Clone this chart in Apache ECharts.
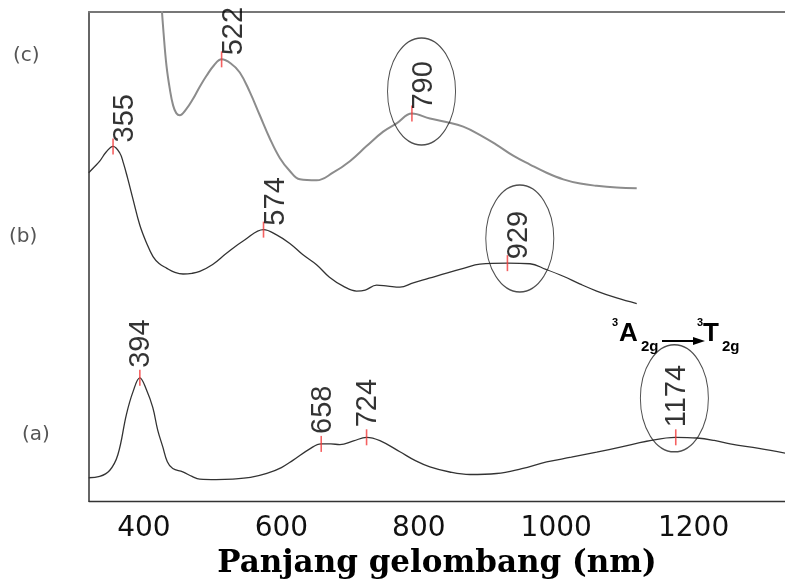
<!DOCTYPE html>
<html><head><meta charset="utf-8">
<script src="https://cdn.jsdelivr.net/npm/echarts@6/dist/echarts.min.js"></script>
<style>html,body{margin:0;padding:0;background:#fff}#c{width:785px;height:584px}</style>
</head><body><div id="c"></div>
<script>
// x tick labels (nm)
const xTicks = [400, 600, 800, 1000, 1200];

// spectra: [wavelength nm, relative absorbance (a.u., offset for stacking)]
const curveA = [[319.6,23.7],[335.6,25],[350,31],[362,47],[374.5,88],[384.1,111],[394,125],[403.6,113],[412.8,95],[420,72],[427.4,55],[434,40],[441.9,33],[456.5,29.7],[470,25],[481.2,22.3],[505,21.8],[529.3,22.3],[555,24],[578.8,28],[600,34],[616.7,41.3],[641.4,53],[658,58],[672,58],[685.1,57.3],[705,61],[724,64.7],[743.4,61.3],[772.5,50],[795,41],[816.2,34.7],[845,29.5],[874.4,27],[913.3,28],[950,33],[986.1,39.7],[1022,44.5],[1058.9,49.7],[1095,55],[1131.7,60.7],[1174,64.7],[1204.6,64],[1230,61.5],[1253.1,58],[1295,53.5],[1333.2,48.7]];
const curveB = [[319.6,333],[328,339],[335.6,344.7],[345,354],[355,359.7],[364.8,353],[370,343],[376,328],[384.1,306],[393.9,280],[403.6,262],[413.2,248],[422,241],[432.8,236.3],[445,232],[456.9,230.3],[470,231],[481.2,233],[500,240],[520.1,251.3],[547,265],[574,275.3],[593,270],[612.3,261.3],[631,250],[651.2,239.7],[670,227],[689.9,218],[709.4,213],[722,214],[738.6,219],[755,218],[772.5,217],[791.9,221.3],[815,226],[840.5,231.3],[865,236],[889,240.3],[929,241.3],[961.8,240.7],[985,235],[1010.3,228],[1035,220],[1058.9,213],[1088,206],[1117.2,200.3]];
const curveC = [[424.6,512],[428.5,475],[432.8,441.3],[437.6,418],[442.4,401.3],[447,393.5],[452.1,391.3],[461,397],[471.5,408],[481,420],[491,431.3],[502,442],[513,448],[526,444],[539.5,434.7],[554,415],[568.6,391.3],[583,368],[597.7,348],[612,335],[626.9,326.3],[651.2,325.3],[675,333],[699.7,344.7],[724,360],[748.2,374.7],[767.7,383],[790,393],[816.2,388],[840,384.5],[864.7,379.7],[890,371],[913.3,361.3],[938,350],[961.8,341.3],[986,333],[1010.3,326.3],[1035,322],[1058.9,319.7],[1088,318],[1117.2,317.3]];

// peak marker positions (nm) and their printed labels
const peaksA = [394, 658, 724, 1174];
const labelsA = ['394', '658', '724', '1174'];
const peaksB = [355, 574, 929];
const labelsB = ['355', '574', '929'];
const peaksC = [513, 790];
const labelsC = ['522', '790'];

// circled (highlighted) bands: centre [nm, a.u.]
const circled = [[804, 415.5], [947, 266.3], [1172, 104.2]];

const sampleNames = ['(a)', '(b)', '(c)'];

function yAt(curve, x) {
  for (let i = 0; i < curve.length - 1; i++) {
    const [x0, y0] = curve[i], [x1, y1] = curve[i + 1];
    if (x >= x0 && x <= x1) return y0 + (y1 - y0) * (x - x0) / (x1 - x0);
  }
  return curve[curve.length - 1][1];
}
function markers(curve, peaks, labels) {
  return peaks.map((x, i) => ({ value: [x, yAt(curve, x)], name: labels[i] }));
}

const chart = echarts.init(document.getElementById('c'));
const lblBase = { show: true, formatter: '{b}', rotate: 90, align: 'left', verticalAlign: 'middle',
  position: 'top', distance: 0, fontFamily: 'Liberation Sans', fontSize: 29, color: '#000' };
const sideLabel = Object.assign({}, lblBase, { offset: [-4, 12] });
const centerLabel = Object.assign({}, lblBase, { offset: [2, 1.5] });
const markerStyle = { color: '#f23a3a' };
const lineCommon = { type: 'line', smooth: 0.4, showSymbol: false, silent: true };

chart.setOption({
  animation: false,
  grid: { left: 89, right: 0, top: 12, bottom: 76 },
  xAxis: [{
    type: 'value', min: 320, max: 1333,
    axisLine: { show: true, lineStyle: { color: '#333', width: 1.3 } },
    axisTick: { show: false }, splitLine: { show: false },
    axisLabel: { customValues: xTicks, formatter: v => String(v), fontFamily: 'DejaVu Sans', fontSize: 28, color: '#111', margin: 14 },
    name: 'Panjang gelombang (nm)', nameLocation: 'middle', nameGap: 33,
    nameTextStyle: { fontFamily: 'DejaVu Serif', fontWeight: 'bold', fontSize: 31, color: '#000' }
  }, {
    type: 'value', position: 'top', min: 320, max: 1333,
    axisLine: { show: true, onZero: false, lineStyle: { color: '#777', width: 2 } },
    axisTick: { show: false }, axisLabel: { show: false }, splitLine: { show: false }
  }],
  yAxis: {
    type: 'value', min: 0, max: 496,
    axisLine: { show: true, lineStyle: { color: '#666', width: 2 } },
    axisTick: { show: false }, axisLabel: { show: false }, splitLine: { show: false }
  },
  series: [
    Object.assign({ data: curveA, lineStyle: { color: '#333', width: 1.3 } }, lineCommon),
    Object.assign({ data: curveB, lineStyle: { color: '#333', width: 1.3 } }, lineCommon),
    Object.assign({ data: curveC, lineStyle: { color: '#8c8c8c', width: 2 } }, lineCommon),
    { type: 'scatter', data: markers(curveA, peaksA, labelsA), symbol: 'rect', symbolSize: [1.6, 16], itemStyle: markerStyle, label: centerLabel, silent: true, z: 5 },
    { type: 'scatter', data: markers(curveB, peaksB, labelsB), symbol: 'rect', symbolSize: [1.6, 16], itemStyle: markerStyle, label: sideLabel, silent: true, z: 5 },
    { type: 'scatter', data: markers(curveC, peaksC, labelsC), symbol: 'rect', symbolSize: [1.6, 16], itemStyle: markerStyle, label: sideLabel, silent: true, z: 5 },
    { type: 'scatter', data: circled, symbol: 'path://M0,50A50,50,0,1,1,100,50A50,50,0,1,1,0,50Z', symbolSize: [68, 107],
      itemStyle: { color: 'rgba(0,0,0,0)', borderColor: '#222', borderWidth: 1.2 }, silent: true, z: 4 }
  ],
  graphic: [
    { type: 'text', left: 13, top: 46, style: { text: sampleNames[2], fontFamily: 'DejaVu Sans', fontSize: 20, fill: '#555' } },
    { type: 'text', left: 9, top: 227, style: { text: sampleNames[1], fontFamily: 'DejaVu Sans', fontSize: 20, fill: '#555' } },
    { type: 'text', left: 22, top: 425, style: { text: sampleNames[0], fontFamily: 'DejaVu Sans', fontSize: 20, fill: '#555' } },
    { type: 'text', x: 612, y: 323, style: { text: '3', fontFamily: 'Liberation Sans', fontWeight: 'bold', fontSize: 11, fill: '#000', textVerticalAlign: 'middle' } },
    { type: 'text', x: 619, y: 334, style: { text: 'A', fontFamily: 'Liberation Sans', fontWeight: 'bold', fontSize: 26, fill: '#000', textVerticalAlign: 'middle' } },
    { type: 'text', x: 641, y: 347, style: { text: '2g', fontFamily: 'Liberation Sans', fontWeight: 'bold', fontSize: 15, fill: '#000', textVerticalAlign: 'middle' } },
    { type: 'line', shape: { x1: 662, y1: 341, x2: 696, y2: 341 }, style: { stroke: '#000', lineWidth: 2 } },
    { type: 'polygon', shape: { points: [[705, 341], [693, 337], [693, 345]] }, style: { fill: '#000' } },
    { type: 'text', x: 697, y: 323, style: { text: '3', fontFamily: 'Liberation Sans', fontWeight: 'bold', fontSize: 11, fill: '#000', textVerticalAlign: 'middle' } },
    { type: 'text', x: 703, y: 334, style: { text: 'T', fontFamily: 'Liberation Sans', fontWeight: 'bold', fontSize: 26, fill: '#000', textVerticalAlign: 'middle' } },
    { type: 'text', x: 722, y: 347, style: { text: '2g', fontFamily: 'Liberation Sans', fontWeight: 'bold', fontSize: 15, fill: '#000', textVerticalAlign: 'middle' } }
  ]
});
</script></body></html>
